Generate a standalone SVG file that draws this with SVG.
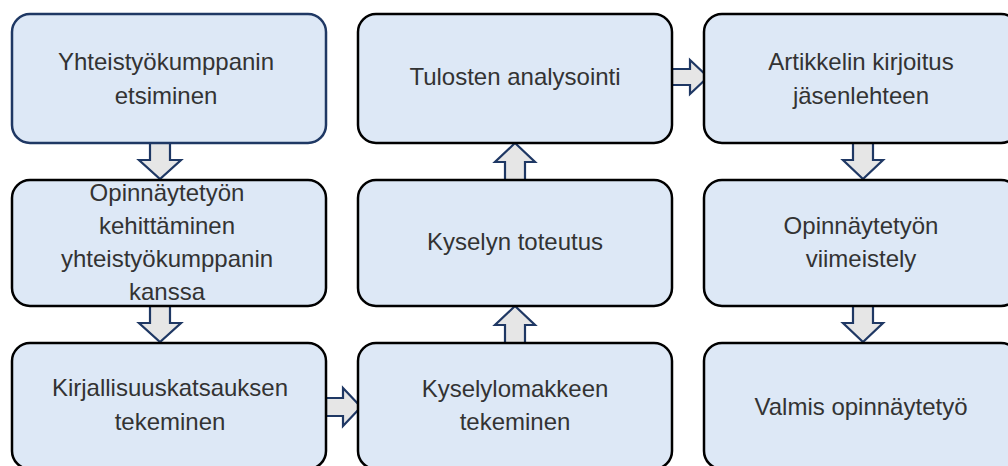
<svg xmlns="http://www.w3.org/2000/svg" width="1008" height="466" viewBox="0 0 1008 466">
<defs>
<style>
.box{fill:#dde8f6;stroke:#000;stroke-width:2.5}
.first{stroke:#1f3864}
.arr{fill:#e6e6e6;stroke:#1f3864;stroke-width:2.2;stroke-linejoin:miter}
text{font-family:"Liberation Sans",Arial,sans-serif;font-size:24px;fill:#333;text-anchor:middle}
</style>
</defs>
<rect width="1008" height="466" fill="#fff"/>
<g id="connectors">
<path class="arr" d="M150,143 V160 H139 L160,179 L181,160 H170 V143"/>
<path class="arr" d="M150,306 V323 H139 L160,342 L181,323 H170 V306"/>
<path class="arr" d="M326,398 H343 V388 L361,407 L343,426 V416 H326 Z"/>
<path class="arr" d="M505,180 V162 H495 L515,143 L535,162 H525 V180"/>
<path class="arr" d="M505,343 V325 H495 L515,306 L535,325 H525 V343"/>
<path class="arr" d="M672,69 H690 V60 L708,77 L690,94 V85 H672 Z"/>
<path class="arr" d="M853,143 V160 H843 L863,179 L883,160 H873 V143"/>
<path class="arr" d="M853,306 V323 H843 L863,342 L883,323 H873 V306"/>
</g>
<g id="n1"><rect class="box first" x="12" y="14" width="314" height="129" rx="18"/>
<text x="166" y="70">Yhteistyökumppanin</text><text x="166" y="104">etsiminen</text></g>
<g id="n2"><rect class="box" x="358" y="14" width="314" height="129" rx="18"/>
<text x="515" y="85">Tulosten analysointi</text></g>
<g id="n3"><rect class="box" x="704" y="14" width="315" height="129" rx="18"/>
<text x="861" y="70">Artikkelin kirjoitus</text><text x="861" y="104">jäsenlehteen</text></g>
<g id="n4"><rect class="box" x="12" y="180" width="314" height="126" rx="18"/>
<text x="167" y="201">Opinnäytetyön</text><text x="167" y="234">kehittäminen</text><text x="167" y="267">yhteistyökumppanin</text><text x="167" y="300">kanssa</text></g>
<g id="n5"><rect class="box" x="358" y="180" width="314" height="126" rx="18"/>
<text x="515" y="250">Kyselyn toteutus</text></g>
<g id="n6"><rect class="box" x="704" y="180" width="315" height="126" rx="18"/>
<text x="861" y="234">Opinnäytetyön</text><text x="861" y="267">viimeistely</text></g>
<g id="n7"><rect class="box" x="12" y="343" width="314" height="126" rx="18"/>
<text x="170" y="396">Kirjallisuuskatsauksen</text><text x="170" y="430">tekeminen</text></g>
<g id="n8"><rect class="box" x="358" y="343" width="314" height="126" rx="18"/>
<text x="515" y="397">Kyselylomakkeen</text><text x="515" y="430">tekeminen</text></g>
<g id="n9"><rect class="box" x="704" y="343" width="315" height="126" rx="18"/>
<text x="861" y="415">Valmis opinnäytetyö</text></g>
</svg>
